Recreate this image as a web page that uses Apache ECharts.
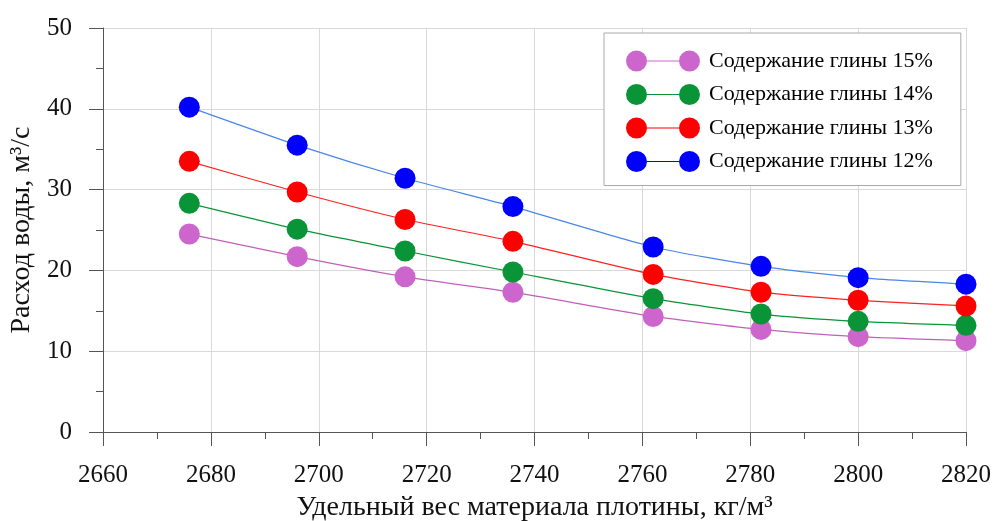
<!DOCTYPE html>
<html>
<head>
<meta charset="utf-8">
<script src="https://cdn.jsdelivr.net/npm/echarts@6/dist/echarts.min.js"></script>
<style>html,body{margin:0;padding:0;background:#fff;}#c{width:995px;height:521px;}</style>
</head>
<body>
<div id="c"></div>
<script>
const xValues = [2676, 2696, 2716, 2736, 2762, 2782, 2800, 2820];
const clay15 = [24.5, 21.7, 19.2, 17.3, 14.3, 12.7, 11.8, 11.3];
const clay14 = [28.3, 25.1, 22.4, 19.8, 16.5, 14.6, 13.7, 13.2];
const clay13 = [33.5, 29.7, 26.3, 23.6, 19.5, 17.3, 16.3, 15.6];
const clay12 = [40.2, 35.5, 31.4, 27.9, 22.9, 20.5, 19.1, 18.3];
const seriesNames = ['Содержание глины 15%', 'Содержание глины 14%', 'Содержание глины 13%', 'Содержание глины 12%'];
const xAxisName = 'Удельный вес материала плотины, кг/м³';
const yAxisName = 'Расход воды, м³/с';

const markerColors = ['#cc66cc', '#0a9438', '#ff0000', '#0000ff'];
const lineColors = ['#c060b8', '#0a9438', '#ff2020', '#4a86e8'];
const allData = [clay15, clay14, clay13, clay12];

const legendIcon = 'path://M0,10.5 A10.5,10.5 0 1 1 21,10.5 A10.5,10.5 0 1 1 0,10.5 Z M53,10.5 A10.5,10.5 0 1 1 74,10.5 A10.5,10.5 0 1 1 53,10.5 Z M21,9.9 L53,9.9 L53,11.1 L21,11.1 Z';

const font = '"Liberation Serif", "Times New Roman", serif';

const chart = echarts.init(document.getElementById('c'), null, {renderer: 'canvas'});
chart.setOption({
  animation: false,
  backgroundColor: '#fff',
  grid: {left: 103, right: 29, top: 28, bottom: 89, containLabel: false, outerBoundsMode: 'none'},
  legend: {
    orient: 'vertical',
    left: 604,
    top: 33,
    padding: [17, 28, 13, 22],
    itemGap: 11.5,
    itemWidth: 74,
    itemHeight: 21,
    borderColor: '#aaa',
    borderWidth: 1,
    backgroundColor: '#fff',
    icon: legendIcon,
    textStyle: {fontFamily: font, fontSize: 22, color: '#000', padding: [0, 0, 0, 4]},
    data: seriesNames
  },
  xAxis: {
    type: 'value',
    min: 2660, max: 2820, interval: 20,
    name: xAxisName,
    nameLocation: 'middle',
    nameGap: 62,
    nameTextStyle: {fontFamily: font, fontSize: 28, color: '#111'},
    axisLine: {show: true, onZero: false, lineStyle: {color: '#555', width: 1}},
    axisTick: {show: true, length: 14, lineStyle: {color: '#555'}},
    minorTick: {show: true, splitNumber: 2, length: 7, lineStyle: {color: '#555'}},
    axisLabel: {fontFamily: font, fontSize: 25, color: '#111', margin: 31, formatter: v => String(v)},
    splitLine: {show: true, lineStyle: {color: '#d9d9d9', width: 1}}
  },
  yAxis: {
    type: 'value',
    min: 0, max: 50, interval: 10,
    name: yAxisName,
    nameLocation: 'middle',
    nameGap: 66,
    nameTextStyle: {fontFamily: font, fontSize: 28, color: '#111'},
    axisLine: {show: true, lineStyle: {color: '#555', width: 1}},
    axisTick: {show: true, length: 14, lineStyle: {color: '#555'}},
    minorTick: {show: true, splitNumber: 2, length: 7, lineStyle: {color: '#555'}},
    axisLabel: {fontFamily: font, fontSize: 25, color: '#111', margin: 31},
    splitLine: {show: true, lineStyle: {color: '#d9d9d9', width: 1}}
  },
  series: seriesNames.map((name, i) => ({
    name: name,
    type: 'line',
    smooth: 0.2,
    symbol: 'circle',
    symbolSize: 21,
    itemStyle: {color: markerColors[i]},
    lineStyle: {color: lineColors[i], width: 1.2},
    data: xValues.map((x, j) => [x, allData[i][j]])
  }))
});
</script>
</body>
</html>
